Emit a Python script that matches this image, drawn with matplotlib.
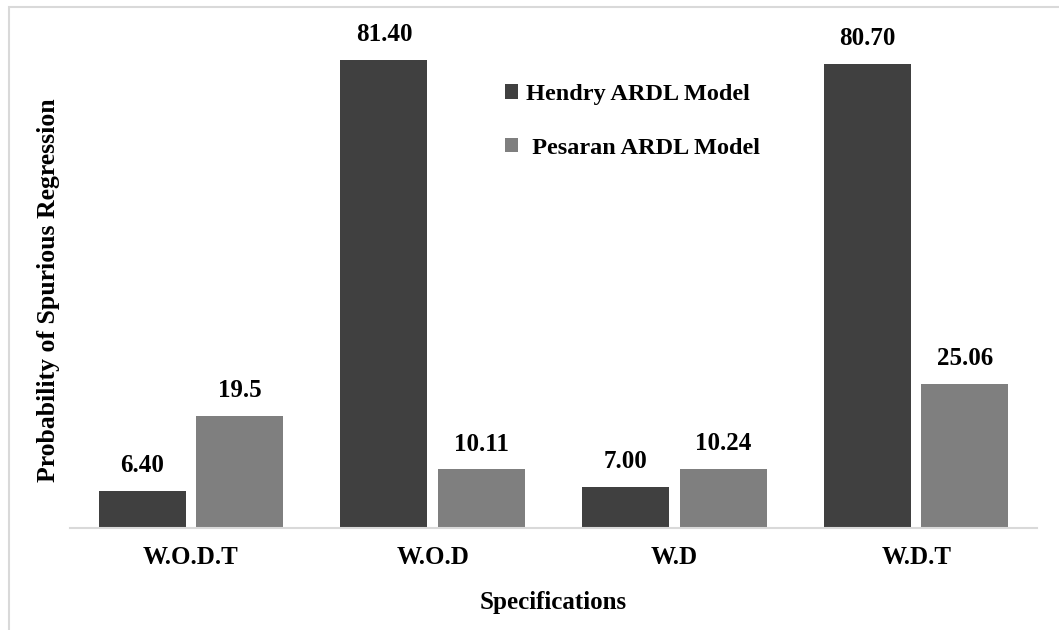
import numpy as np
import matplotlib.pyplot as plt
from matplotlib.patches import Rectangle

# data
specs = ["W.O.D.T", "W.O.D", "W.D", "W.D.T"]
hendry = [6.40, 81.40, 7.00, 80.70]
pesaran = [19.5, 10.11, 10.24, 25.06]
hendry_labels = ["6.40", "81.40", "7.00", "80.70"]
pesaran_labels = ["19.5", "10.11", "10.24", "25.06"]

plt.rcParams['font.family'] = ['Liberation Serif', 'DejaVu Serif']
plt.rcParams['font.weight'] = 'bold'

W, H = 1059, 630
fig = plt.figure(figsize=(W / 100, H / 100), dpi=100)
ax = fig.add_axes([70 / W, (H - 527.5) / H, 967 / W, 516.6 / H])

x = np.arange(len(specs))
bw = 0.36
off = 0.2015
b1 = ax.bar(x - off, hendry, bw, color='#404040', label='Hendry ARDL Model')
b2 = ax.bar(x + off, pesaran, bw, color='#7f7f7f', label=' Pesaran ARDL Model')

for bars, labs in ((b1, hendry_labels), (b2, pesaran_labels)):
    for b, t in zip(bars, labs):
        ax.annotate(t, (b.get_x() + b.get_width() / 2, b.get_height()),
                    xytext=(0, 10), textcoords='offset points',
                    ha='center', va='bottom', fontsize=18, fontweight='bold')

ax.set_xlim(-0.5, 3.5)
ax.set_ylim(0, 90)
ax.set_xticks(x)
ax.set_xticklabels(specs, fontsize=18, fontweight='bold')
ax.tick_params(axis='x', length=0, pad=13)
ax.set_yticks([])
for s in ['top', 'right', 'left']:
    ax.spines[s].set_visible(False)
ax.spines['bottom'].set_color('#d9d9d9')
ax.spines['bottom'].set_linewidth(1.5)

ax.set_xlabel("Specifications", fontsize=18, fontweight='bold', labelpad=16)
ax.set_ylabel("Probability of Spurious Regression", fontsize=18.5, fontweight='bold')
ax.yaxis.set_label_coords(-0.01, 0.46)

leg = ax.legend(loc='upper left', bbox_to_anchor=(483 / W, 1 - 62 / H),
                bbox_transform=fig.transFigure, frameon=False,
                prop={'size': 17.5, 'weight': 'bold'},
                handlelength=0.55, handleheight=0.55, handletextpad=0.3,
                labelspacing=1.35)

# light frame around the chart
fig.patches.append(Rectangle((9 / W, -0.1), 1.2, 1 - 7 / H + 0.1,
                             transform=fig.transFigure, fill=False,
                             edgecolor='#d9d9d9', linewidth=1.5))

fig.savefig("out.png", dpi=100)
